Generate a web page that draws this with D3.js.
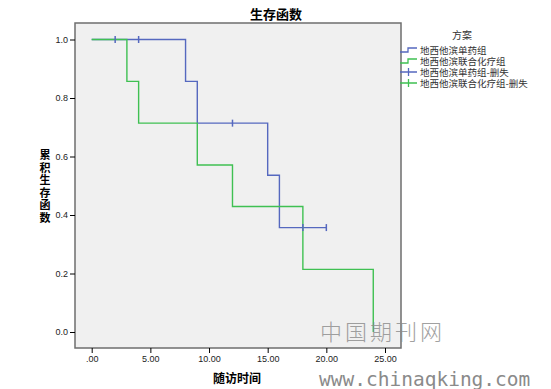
<!DOCTYPE html>
<html>
<head>
<meta charset="utf-8">
<script src="https://cdn.jsdelivr.net/npm/d3@7"></script>
<style>
  body { margin: 0; background: #fff; }
  text { font-family: "Liberation Sans", Arial, sans-serif; }
  .cjk { font-family: "Noto Sans CJK SC", sans-serif; }
</style>
</head>
<body>
<script>
/* Data */
var xTicks = [0, 5, 10, 15, 20, 25],
	yTicks = [0, 0.2, 0.4, 0.6, 0.8, 1.0],
	seriesNames = ["地西他滨单药组", "地西他滨联合化疗组"],
	censorNames = ["地西他滨单药组-删失", "地西他滨联合化疗组-删失"],
	colors = ["#5568bf", "#3fc052"];

// step points: time, cumulative survival
var singleTimes = [0, 8, 9, 15, 16, 20],
	singleSurv = [1.0, 0.857, 0.714, 0.536, 0.357, 0.357],
	comboTimes = [0, 3, 4, 9, 12, 18, 24],
	comboSurv = [1.0, 0.857, 0.714, 0.571, 0.429, 0.214, 0];

// censored observations
var singleCensorT = [2, 4, 12, 18, 20],
	singleCensorS = [1.0, 1.0, 0.714, 0.357, 0.357];

/* Display setup */
var width = 551, height = 389,
	frame = {left: 75, right: 401, top: 23, bottom: 348},
	x = d3.scaleLinear().domain([0, 25]).range([91.7, 385]),
	y = d3.scaleLinear().domain([0, 1]).range([332, 39.5]);

var svg = d3.select("body").append("svg")
	.attr("width", width)
	.attr("height", height);

svg.append("rect")
	.attr("x", frame.left).attr("y", frame.top)
	.attr("width", frame.right - frame.left)
	.attr("height", frame.bottom - frame.top)
	.style("fill", "#f0f0f0")
	.style("stroke", "#6e6e6e")
	.style("stroke-width", 1.5);

/* Axes */
var xAxis = svg.append("g")
	.attr("transform", "translate(0," + frame.bottom + ")")
	.call(d3.axisBottom(x).tickValues(xTicks).tickSize(5).tickPadding(3)
		.tickFormat(function(d) { return d == 0 ? ".00" : d3.format(".2f")(d); }));
var yAxis = svg.append("g")
	.attr("transform", "translate(" + frame.left + ",0)")
	.call(d3.axisLeft(y).tickValues(yTicks).tickSize(5).tickPadding(2)
		.tickFormat(d3.format(".1f")));

[xAxis, yAxis].forEach(function(a) {
	a.select(".domain").remove();
	a.selectAll("line").style("stroke", "#000");
	a.selectAll("text")
		.style("font-size", "9px")
		.style("fill", "#222")
		.style("font-family", "Liberation Sans, Arial, sans-serif");
});

/* Survival curves */
var line = d3.line()
	.x(function(d) { return x(d[0]); })
	.y(function(d) { return y(d[1]); })
	.curve(d3.curveStepAfter);

var curves = [d3.zip(singleTimes, singleSurv), d3.zip(comboTimes, comboSurv)];

svg.selectAll("path.curve")
	.data(curves)
	.enter().append("path")
		.attr("class", "curve")
		.attr("d", line)
		.style("fill", "none")
		.style("stroke", function(d, i) { return colors[i]; })
		.style("stroke-width", 1.4);

svg.selectAll("line.censor")
	.data(d3.zip(singleCensorT, singleCensorS))
	.enter().append("line")
		.attr("class", "censor")
		.attr("x1", function(d) { return x(d[0]); })
		.attr("x2", function(d) { return x(d[0]); })
		.attr("y1", function(d) { return y(d[1]) - 3.5; })
		.attr("y2", function(d) { return y(d[1]) + 3.5; })
		.style("stroke", colors[0])
		.style("stroke-width", 1.5);

/* Titles */
svg.append("text")
	.attr("class", "cjk")
	.attr("x", 276).attr("y", 19)
	.attr("text-anchor", "middle")
	.style("font-size", "13px").style("font-weight", "bold")
	.text("生存函数");

svg.append("text")
	.attr("class", "cjk")
	.attr("x", 237).attr("y", 383)
	.attr("text-anchor", "middle")
	.style("font-size", "12px").style("font-weight", "bold")
	.text("随访时间");

// vertical y label, one character per line
svg.selectAll("text.ylabel")
	.data("累积生存函数".split(""))
	.enter().append("text")
		.attr("class", "cjk ylabel")
		.attr("text-anchor", "middle")
		.attr("x", 45)
		.attr("y", function(d, i) { return 159 + i * 12.5; })
		.style("font-size", "11px").style("font-weight", "bold")
		.text(function(d) { return d; });

/* Legend */
var legend = svg.append("g").attr("transform", "translate(400,0)");
legend.append("text")
	.attr("class", "cjk")
	.attr("x", 62).attr("y", 39)
	.attr("text-anchor", "middle")
	.style("font-size", "10px").style("fill", "#333")
	.text("方案");

var items = seriesNames.map(function(n, i) { return {name: n, kind: "step", color: colors[i]}; })
	.concat(censorNames.map(function(n, i) { return {name: n, kind: "censor", color: colors[i]}; }));

var item = legend.selectAll("g.item")
	.data(items)
	.enter().append("g")
		.attr("class", "item")
		.attr("transform", function(d, i) { return "translate(0," + (50 + i * 11) + ")"; });

item.append("path")
	.attr("d", function(d) {
		return d.kind == "step" ? "M0,2H8V-2H17" : "M0,0H17M8.5,-4V4";
	})
	.style("fill", "none")
	.style("stroke", function(d) { return d.color; })
	.style("stroke-width", 1.3);

item.append("text")
	.attr("class", "cjk")
	.attr("x", 20).attr("y", 3.5)
	.style("font-size", "9.5px").style("fill", "#333")
	.text(function(d) { return d.name; });

/* Watermark */
svg.append("text")
	.attr("class", "cjk")
	.attr("x", 320).attr("y", 340)
	.style("font-size", "22px").style("fill", "#8a8a8a").style("opacity", 0.8)
	.style("letter-spacing", "3px").style("font-weight", "300")
	.text("中国期刊网");

svg.append("text")
	.attr("x", 319).attr("y", 386)
	.style("font-family", "DejaVu Sans Mono, monospace")
	.style("font-size", "19.5px").style("fill", "#8a8a8a")
	.text("www.chinaqking.com");
</script>
</body>
</html>
